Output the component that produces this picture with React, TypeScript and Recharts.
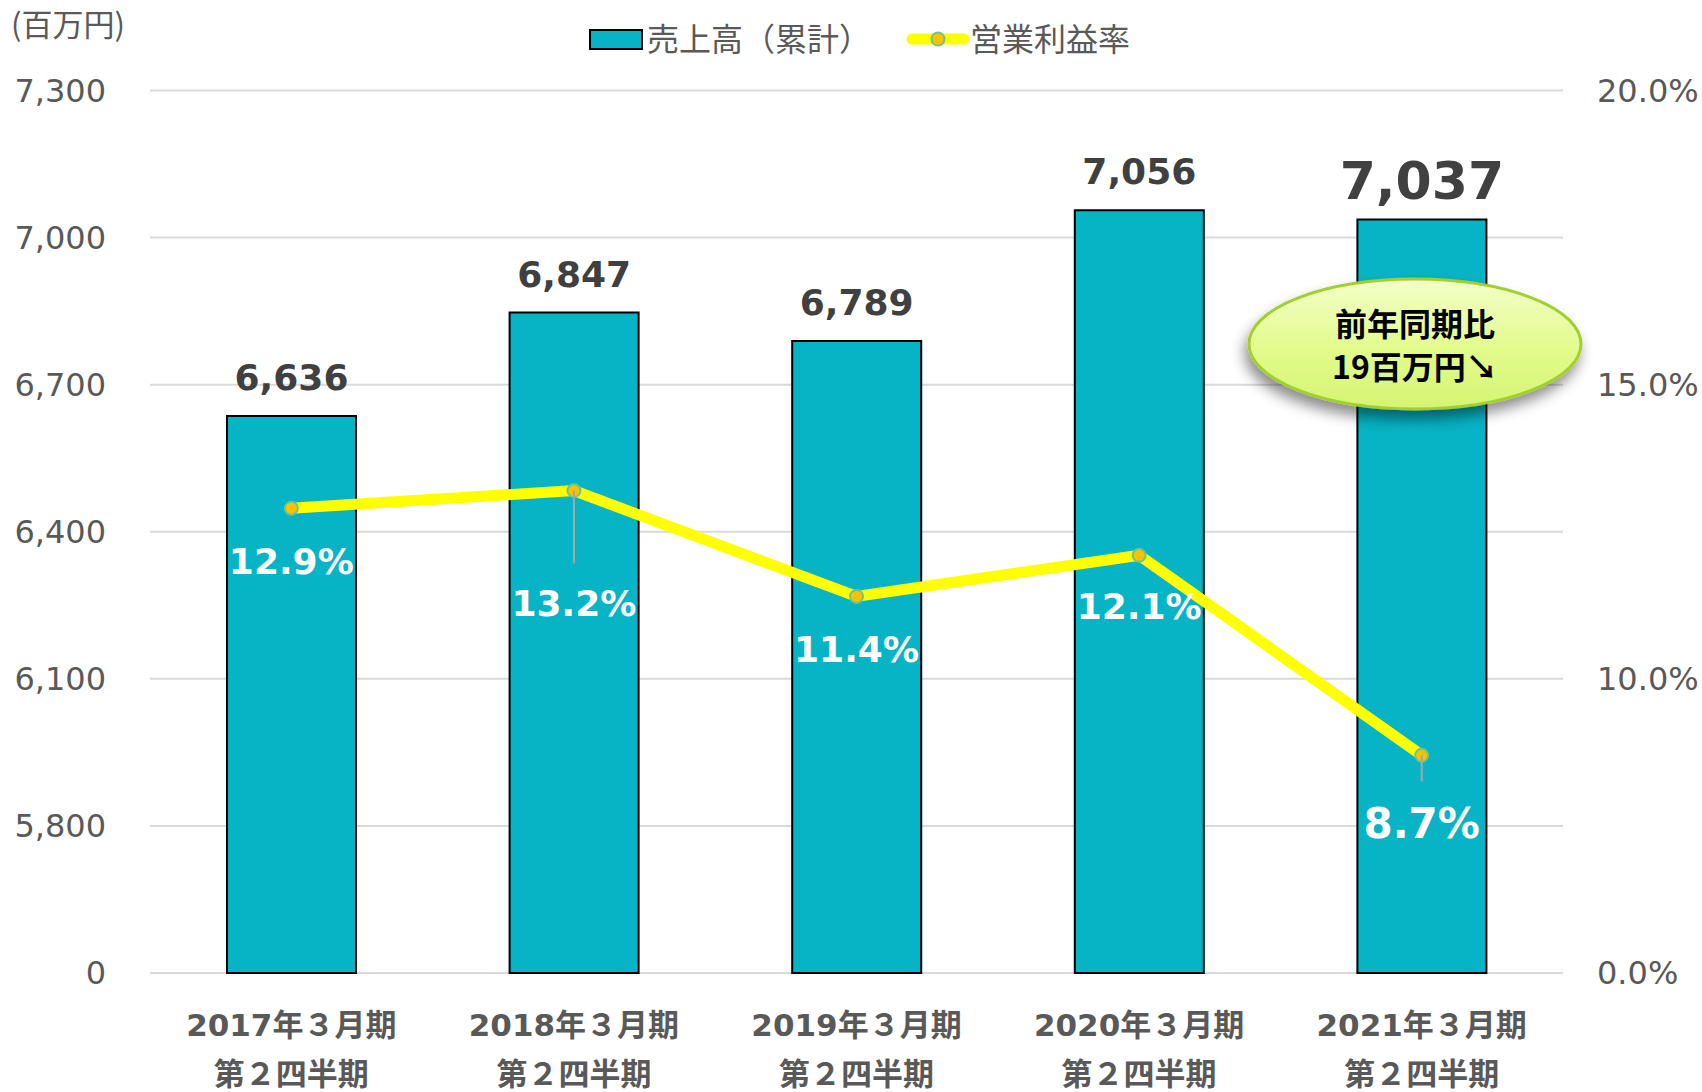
import React from "react";
import {
  ComposedChart, Bar, Line, XAxis, YAxis, CartesianGrid, LabelList,
} from "recharts";

const periods = ["2017年３月期", "2018年３月期", "2019年３月期", "2020年３月期", "2021年３月期"];
const quarter = "第２四半期";
const sales = [6636, 6847, 6789, 7056, 7037];
const margin = [12.9, 13.2, 11.4, 12.1, 8.7];

const salesTicks = [5500, 5800, 6100, 6400, 6700, 7000, 7300];
const salesTickLabels = ["0", "5,800", "6,100", "6,400", "6,700", "7,000", "7,300"];
const marginTicks = [5, 10, 15, 20];
const marginTickLabels = ["0.0%", "10.0%", "15.0%", "20.0%"];

const data = periods.map((p, i) => ({ name: p, sales: sales[i], margin: margin[i] }));

// label placement for the margin line (baseline below the point, leader length)
const marginLabelDy = [66, 125, 66, 64, 83];
const marginLeader = [0, 73, 0, 0, 26];

const W = 1702;
const H = 1092;
const BAR = "#07B4C5";
const GREY = "#595959";
const SANS = "'DejaVu Sans', 'Noto Sans CJK JP', sans-serif";
const CJK = "'Noto Sans CJK JP', sans-serif";

function LeftTick(p: any) {
  return (
    <text x={p.x} y={p.y + 11} textAnchor="end" fontSize={32} fill={GREY} fontFamily={SANS}>
      {salesTickLabels[salesTicks.indexOf(p.payload.value)]}
    </text>
  );
}

function RightTick(p: any) {
  return (
    <text x={p.x} y={p.y + 11} textAnchor="start" fontSize={32} fill={GREY} fontFamily={SANS}>
      {marginTickLabels[marginTicks.indexOf(p.payload.value)]}
    </text>
  );
}

function CategoryTick(p: any) {
  return (
    <g>
      <text x={p.x} y={p.y + 63} textAnchor="middle" fontSize={31} fontWeight="bold" fill={GREY} fontFamily={SANS}>
        {p.payload.value}
      </text>
      <text x={p.x} y={p.y + 112} textAnchor="middle" fontSize={31} fontWeight="bold" fill={GREY} fontFamily={SANS}>
        {quarter}
      </text>
    </g>
  );
}

function SalesLabel(p: any) {
  const vb = p.viewBox || p;
  const x = vb.x + vb.width / 2;
  const last = p.index === sales.length - 1;
  return (
    <text x={x} y={vb.y - (last ? 20 : 26)} textAnchor="middle" fontSize={last ? 52 : 36}
      fontWeight="bold" fill="#404040" fontFamily={SANS}>
      {Number(p.value).toLocaleString("en-US")}
    </text>
  );
}

function MarginLabel(p: any) {
  const vb = p.viewBox || p;
  const i = p.index;
  const last = i === margin.length - 1;
  return (
    <g>
      {marginLeader[i] > 0 && (
        <line x1={vb.x} y1={vb.y} x2={vb.x} y2={vb.y + marginLeader[i]} stroke="#A6A6A6" strokeWidth={2} />
      )}
      <text x={vb.x} y={vb.y + marginLabelDy[i]} textAnchor="middle" fontSize={last ? 42 : 36}
        fontWeight="bold" fill="#FFFFFF" fontFamily={SANS}>
        {Number(p.value).toFixed(1)}%
      </text>
    </g>
  );
}

export default function App() {
  return (
    <div style={{ position: "absolute", left: 0, top: 0, width: W, height: H, background: "#fff" }}>
      <ComposedChart width={W} height={H} data={data} margin={{ top: 90.5, right: 0, bottom: 0, left: 0 }}>
        <CartesianGrid vertical={false} stroke="#D9D9D9" strokeWidth={2} />
        <XAxis dataKey="name" axisLine={false} tickLine={false} tickSize={0} tickMargin={0}
          height={119} interval={0} tick={CategoryTick} />
        <YAxis domain={[5500, 7300]} ticks={salesTicks} width={150} axisLine={false} tickLine={false}
          tickSize={0} tickMargin={44} tick={LeftTick} />
        <YAxis yAxisId="right" orientation="right" domain={[5, 20]} ticks={marginTicks} width={139}
          axisLine={false} tickLine={false} tickSize={0} tickMargin={34} tick={RightTick} />
        <Bar dataKey="sales" fill={BAR} stroke="#000" strokeWidth={2} barSize={129} isAnimationActive={false}>
          <LabelList dataKey="sales" content={SalesLabel} />
        </Bar>
        <Line yAxisId="right" type="linear" dataKey="margin" stroke="#FFFF00" strokeWidth={11}
          dot={{ r: 6.5, fill: "#FFC000", stroke: "#6CC68A", strokeWidth: 2 }} activeDot={false}
          isAnimationActive={false}>
          <LabelList dataKey="margin" content={MarginLabel} />
        </Line>
      </ComposedChart>

      <svg width={W} height={H} style={{ position: "absolute", left: 0, top: 0, pointerEvents: "none" }}>
        <defs>
          <linearGradient id="bubble" x1="0" y1="0" x2="0" y2="1">
            <stop offset="0%" stopColor="#F3FFC8" />
            <stop offset="55%" stopColor="#E2FB8C" />
            <stop offset="100%" stopColor="#D6F472" />
          </linearGradient>
          <filter id="shadow" x="-20%" y="-30%" width="140%" height="170%">
            <feDropShadow dx={-3} dy={9} stdDeviation={7} floodColor="#000" floodOpacity={0.45} />
          </filter>
        </defs>

        <text x={11} y={22} fontSize={31} fill={GREY} fontFamily={CJK} dominantBaseline="central">(百万円)</text>

        <rect x={590} y={30} width={52} height={19} fill={BAR} stroke="#000" strokeWidth={2} />
        <text x={647} y={37} fontSize={32} fill={GREY} fontFamily={CJK} dominantBaseline="central">売上高（累計）</text>
        <line x1={912} y1={39} x2={964} y2={39} stroke="#FFFF00" strokeWidth={11} strokeLinecap="round" />
        <circle cx={938} cy={39} r={6.5} fill="#FFC000" stroke="#6CC68A" strokeWidth={2} />
        <text x={970} y={37} fontSize={32} fill={GREY} fontFamily={CJK} dominantBaseline="central">営業利益率</text>

        <ellipse cx={1415} cy={344} rx={166} ry={65} fill="url(#bubble)" stroke="#A3CF2E" strokeWidth={3}
          filter="url(#shadow)" />
        <text x={1415} y={325} textAnchor="middle" fontSize={32} fontWeight="bold" fill="#000"
          fontFamily={SANS} dominantBaseline="central">前年同期比</text>
        <text x={1415} y={365} textAnchor="middle" fontSize={32} fontWeight="bold" fill="#000"
          fontFamily={CJK} dominantBaseline="central">19百万円↘</text>
      </svg>
    </div>
  );
}
